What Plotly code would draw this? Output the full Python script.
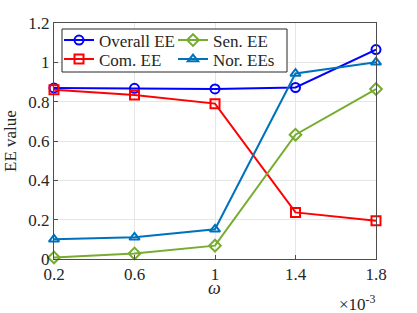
import plotly.graph_objects as go

omega = [0.2, 0.6, 1.0, 1.4, 1.8]
tick_labels = ["0.2", "0.6", "1", "1.4", "1.8"]
overall_ee = [0.870, 0.868, 0.865, 0.872, 1.065]
com_ee = [0.861, 0.834, 0.790, 0.237, 0.194]
sen_ee = [0.008, 0.028, 0.068, 0.632, 0.864]
nor_ee = [0.100, 0.110, 0.151, 0.943, 1.000]

FONT = "Liberation Serif, Times New Roman, serif"
fig = go.Figure()

def add(name, y, color, symbol, legend):
    fig.add_trace(go.Scatter(
        x=omega, y=y, name=name, mode="lines+markers",
        line=dict(color=color, width=2),
        marker=dict(symbol=symbol, size=9, color=color,
                    line=dict(color=color, width=2)),
        cliponaxis=False, legend=legend))

add("Overall EE", overall_ee, "#0000FF", "circle-open", "legend")
add("Com. EE", com_ee, "#FF0000", "square-open", "legend2")
add("Sen. EE", sen_ee, "#77AC30", "diamond-open", "legend3")
add("Nor. EEs", nor_ee, "#0072BD", "triangle-up-open", "legend4")

W, H = 417, 313
L, R, T, B = 54, 41, 23, 54
pw, ph = W - L - R, H - T - B

def px(xp):
    return (xp - L) / pw

def py(yp):
    return (H - B - yp) / ph

axis_common = dict(showline=True, linecolor="#4d4d4d", linewidth=1, mirror=True,
                   showgrid=True, gridcolor="#e6e6e6", gridwidth=1,
                   ticks="inside", ticklen=4, tickcolor="#4d4d4d",
                   tickfont=dict(family=FONT, size=17, color="#262626"),
                   zeroline=False, automargin=False)

def leg(xp, yp):
    return dict(x=px(xp), y=py(yp), xanchor="left", yanchor="top",
                bgcolor="rgba(0,0,0,0)", borderwidth=0,
                font=dict(family=FONT, size=17, color="#262626"),
                tracegroupgap=0, itemwidth=30)

fig.update_layout(
    width=W, height=H,
    margin=dict(l=L, r=R, t=T, b=B, autoexpand=False),
    paper_bgcolor="white", plot_bgcolor="white",
    font=dict(family=FONT, size=16, color="#262626"),
    xaxis=dict(range=[0.2, 1.8], tickvals=omega, ticktext=tick_labels, **axis_common),
    yaxis=dict(range=[0, 1.2], tickvals=[0, 0.2, 0.4, 0.6, 0.8, 1.0, 1.2],
               ticktext=["0", "0.2", "0.4", "0.6", "0.8", "1", "1.2"],
               **axis_common),
    legend=leg(59, 22.5),
    legend2=leg(59, 41.5),
    legend3=leg(173, 22.5),
    legend4=leg(173, 41.5),
    showlegend=True,
)

fig.add_shape(type="rect", xref="paper", yref="paper",
              x0=px(62), x1=px(287), y0=py(72), y1=py(29),
              line=dict(color="#262626", width=1), fillcolor="white", layer="above")

fig.add_annotation(text="EE value", xref="paper", yref="paper",
                   x=px(10), y=py(141), xanchor="center", yanchor="middle",
                   textangle=-90, showarrow=False,
                   font=dict(family=FONT, size=17, color="#262626"))
fig.add_annotation(text="<i>ω</i>", xref="paper", yref="paper",
                   x=px(214), y=py(300), showarrow=False,
                   font=dict(family=FONT, size=18, color="#262626"))
fig.add_annotation(text="×10<sup>-3</sup>", xref="paper", yref="paper",
                   x=px(378), y=py(303), xanchor="right", yanchor="middle",
                   showarrow=False,
                   font=dict(family=FONT, size=17, color="#262626"))

fig.write_html("out.html", config=dict(displayModeBar=False),
               post_script="document.body.style.margin='0';")
